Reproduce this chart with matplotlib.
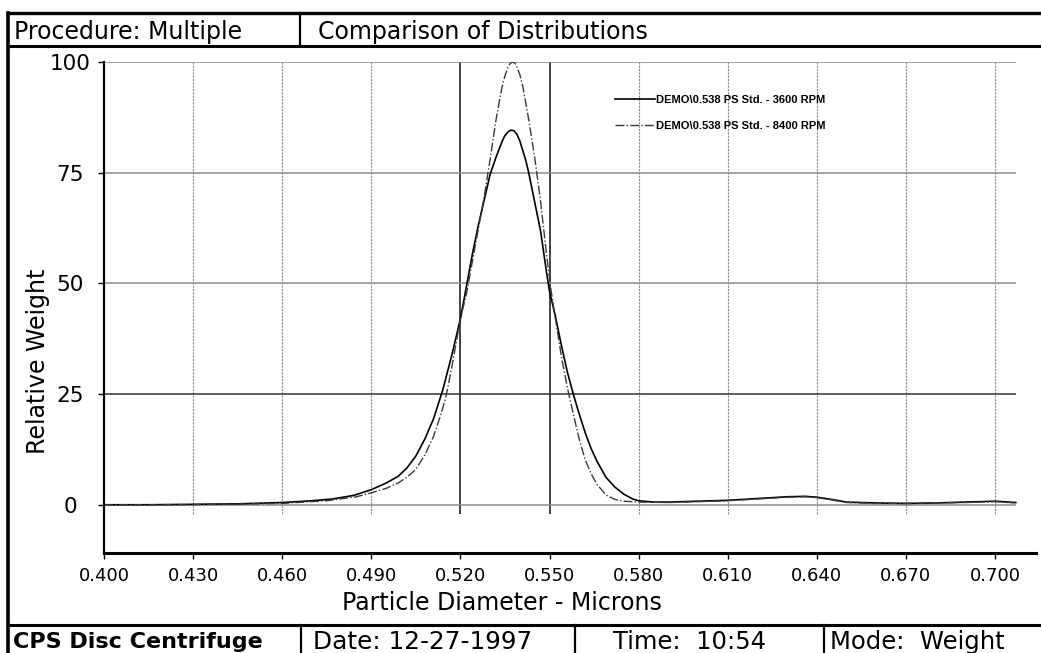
import matplotlib
matplotlib.use('Agg')
import matplotlib.pyplot as plt
from matplotlib.lines import Line2D

# readings taken off the printout
x_3600 = [0.400, 0.415, 0.430, 0.445, 0.460, 0.470, 0.477, 0.484, 0.490, 0.495,
          0.499, 0.502, 0.505, 0.508, 0.511, 0.514, 0.517, 0.520, 0.522, 0.524,
          0.526, 0.528, 0.530, 0.532, 0.534, 0.535, 0.536, 0.537, 0.538, 0.539,
          0.540, 0.542, 0.543, 0.545, 0.547, 0.549, 0.550, 0.552, 0.554, 0.556,
          0.558, 0.560, 0.562, 0.564, 0.566, 0.569, 0.572, 0.575, 0.578, 0.580,
          0.585, 0.590, 0.600, 0.610, 0.620, 0.630, 0.636, 0.640, 0.645, 0.650,
          0.660, 0.670, 0.680, 0.690, 0.700, 0.707]
y_3600 = [0.0, 0.0, 0.1, 0.2, 0.5, 0.9, 1.3, 2.1, 3.4, 4.9,
          6.4, 8.3, 11.0, 14.8, 19.5, 25.8, 33.5, 42.0, 49.2, 56.5,
          63.0, 68.8, 74.6, 78.5, 82.0, 83.4, 84.2, 84.6, 84.5, 83.7,
          82.2, 77.8, 75.0, 68.4, 61.8, 52.5, 48.2, 42.5, 36.0, 30.0,
          25.0, 20.5, 16.3, 12.7, 9.8, 6.2, 4.0, 2.4, 1.3, 0.9,
          0.6, 0.6, 0.8, 1.0, 1.4, 1.8, 1.9, 1.7, 1.2, 0.6,
          0.4, 0.3, 0.4, 0.6, 0.8, 0.5]

x_8400 = [0.400, 0.430, 0.460, 0.475, 0.485, 0.490, 0.495, 0.499, 0.502, 0.505,
          0.508, 0.511, 0.513, 0.515, 0.517, 0.519, 0.520, 0.522, 0.524, 0.526,
          0.528, 0.530, 0.532, 0.534, 0.535, 0.536, 0.5368, 0.5376, 0.5384, 0.539,
          0.540, 0.541, 0.543, 0.545, 0.547, 0.549, 0.5505, 0.552, 0.554, 0.556,
          0.558, 0.560, 0.562, 0.564, 0.566, 0.569, 0.572, 0.575, 0.580, 0.590,
          0.600, 0.610, 0.620, 0.630, 0.636, 0.640, 0.645, 0.650, 0.660, 0.670,
          0.680, 0.690, 0.700, 0.707]
y_8400 = [0.0, 0.0, 0.3, 0.9, 1.8, 2.7, 3.7, 4.9, 6.2, 8.0,
          11.2, 15.5, 19.5, 24.0, 30.7, 38.2, 42.0, 47.5, 54.8, 62.2,
          69.5, 78.0, 87.0, 94.3, 96.9, 98.8, 99.7, 100.0, 99.7, 98.9,
          97.2, 94.5, 87.0, 78.5, 68.5, 56.5, 48.5, 42.0, 33.5, 26.5,
          20.5, 14.8, 10.2, 7.0, 4.6, 2.2, 1.2, 0.8, 0.6, 0.5,
          0.7, 0.9, 1.3, 1.7, 1.8, 1.6, 1.1, 0.5, 0.3, 0.3,
          0.4, 0.5, 0.7, 0.4]

labels = ['DEMO\\0.538 PS Std. - 3600 RPM', 'DEMO\\0.538 PS Std. - 8400 RPM']
x_ticks = [0.400, 0.430, 0.460, 0.490, 0.520, 0.550, 0.580, 0.610, 0.640, 0.670, 0.700]
y_ticks = [0, 25, 50, 75, 100]

W, H = 1041, 653
fig = plt.figure(figsize=(W / 100, H / 100), dpi=100)

def fx(p):
    return p / W

def fy(p):
    return 1 - p / H

sans = ['DejaVu Sans']
lib = ['Liberation Sans', 'DejaVu Sans']

# plot area, pixel box 104..1036 x 62..553
ax = fig.add_axes([fx(104), fy(553), fx(1036) - fx(104), fy(62) - fy(553)])
ax.plot(x_3600, y_3600, color='black', lw=1.2, label=labels[0])
ax.plot(x_8400, y_8400, color='#3a3a3a', lw=1.0, ls='-.', label=labels[1])

ax.set_xlim(0.400, 0.7138)
ax.set_ylim(-10.9, 100)
ax.set_xticks(x_ticks)
ax.set_xticklabels(['%.3f' % v for v in x_ticks], family=sans, fontsize=13)
ax.set_yticks(y_ticks)
ax.set_yticklabels([str(v) for v in y_ticks], family=sans, fontsize=15.5, ha='center')
ax.tick_params(axis='y', length=4.5, width=1, pad=20, direction='out')
ax.tick_params(axis='x', length=4, width=1, pad=6, direction='out')

x_end = x_3600[-1]
for v in x_ticks[1:]:
    dark = v in (0.520, 0.550)
    ax.vlines(v, -2, 100, color='#222222' if dark else '#8a8a8a',
              lw=1.2 if dark else 0.8, ls='-' if dark else (0, (2, 1)), zorder=0)
for v in y_ticks:
    ax.hlines(v, 0.400, x_end, color='#333333' if v == 25 else '#8a8a8a',
              lw=1.1, zorder=0)

ax.spines['top'].set_visible(False)
ax.spines['right'].set_visible(False)
ax.spines['left'].set_linewidth(1.6)
ax.spines['bottom'].set_linewidth(2.2)

ax.legend(loc='upper left', bbox_to_anchor=((615 - 104) / 932, (553 - 95) / 491),
          frameon=False, prop={'family': lib, 'size': 8, 'weight': 'bold'},
          handlelength=3.6, handletextpad=0.1, labelspacing=1.4, borderpad=0,
          borderaxespad=0)

fig.text(fx(502), fy(603), 'Particle Diameter - Microns', family=sans, fontsize=17,
         ha='center', va='center')
fig.text(fx(38), fy(361), 'Relative Weight', family=sans, fontsize=17, rotation=90,
         ha='center', va='center')

# report frame: header and footer boxes
def hline(y, x0, x1, lw):
    fig.add_artist(Line2D([fx(x0), fx(x1)], [fy(y), fy(y)], color='black', lw=lw))

def vline(x, y0, y1, lw):
    fig.add_artist(Line2D([fx(x), fx(x)], [fy(y0), fy(y1)], color='black', lw=lw))

hline(13, 8, W + 5, 2.4)
hline(46, 8, W + 5, 2.2)
hline(625, 8, W + 5, 2.2)
vline(8, 13, H + 5, 2.6)
vline(300, 13, 46, 1.6)
vline(301, 625, H + 5, 1.6)
vline(575, 625, H + 5, 1.6)
vline(824, 625, H + 5, 1.6)

fig.text(fx(14), fy(32), 'Procedure: Multiple', family=sans, fontsize=17, va='center')
fig.text(fx(318), fy(32), 'Comparison of Distributions', family=sans, fontsize=17,
         va='center')
fig.text(fx(13), fy(642), 'CPS Disc Centrifuge', family=sans, fontsize=16,
         weight='bold', va='center')
fig.text(fx(313), fy(642), 'Date: 12-27-1997', family=sans, fontsize=17.8, va='center')
fig.text(fx(613), fy(642), 'Time:  10:54', family=sans, fontsize=17.5, va='center')
fig.text(fx(830), fy(642), 'Mode:  Weight', family=sans, fontsize=17.5, va='center')

fig.savefig('out.png', dpi=100)
